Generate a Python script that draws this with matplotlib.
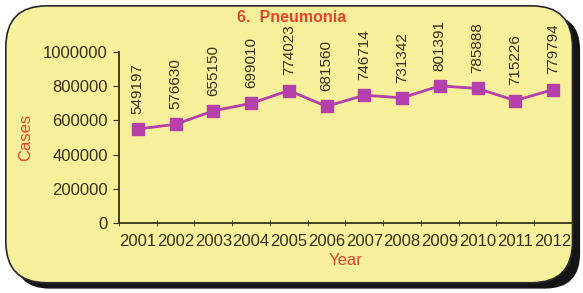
import matplotlib.pyplot as plt
from matplotlib.patches import FancyBboxPatch
from matplotlib.ticker import FuncFormatter

plt.rcParams['font.family'] = ['Liberation Sans', 'DejaVu Sans']

years = ['2001', '2002', '2003', '2004', '2005', '2006',
         '2007', '2008', '2009', '2010', '2011', '2012']
cases = [549197, 576630, 655150, 699010, 774023, 681560,
         746714, 731342, 801391, 785888, 715226, 779794]

panel = '#f9f09b'
ink = '#36321a'
red = '#e5452c'

fig = plt.figure(figsize=(5.83, 2.93), dpi=100)
fig.patch.set_facecolor('white')

# shadow + rounded panel, kept behind the axes
shadow = FancyBboxPatch((0.025, 0.015), 0.97, 0.935,
                        boxstyle='round,pad=0,rounding_size=0.06',
                        transform=fig.transFigure, facecolor='#151515',
                        edgecolor='none', mutation_aspect=2.0, zorder=-20)
box = FancyBboxPatch((0.01, 0.035), 0.972, 0.945,
                     boxstyle='round,pad=0,rounding_size=0.07',
                     transform=fig.transFigure, facecolor=panel,
                     edgecolor='#2a2a2a', linewidth=1.2, mutation_aspect=2.0,
                     zorder=-10)
fig.patches.extend([shadow, box])

ax = fig.add_axes([0.204, 0.239, 0.777, 0.584])
ax.set_facecolor('none')
x = range(len(years))
ax.plot(x, cases, color='#b540ab', linewidth=2, marker='s', markersize=9,
        markerfacecolor='#b540ab', markeredgecolor='#b540ab', clip_on=False)
for xi, v in zip(x, cases):
    ax.annotate(str(v), (xi, v), xytext=(0, 11), textcoords='offset points',
                rotation=90, ha='center', va='bottom', fontsize=11,
                color=ink)

ax.set_xlim(-0.5, len(years) - 0.5)
ax.set_ylim(0, 1000000)
ax.set_yticks(range(0, 1000001, 200000))
ax.yaxis.set_major_formatter(FuncFormatter(lambda v, p: '%d' % v))
ax.set_xticks(x)
ax.set_xticklabels(years)
ax.set_xticks([i - 0.5 for i in range(len(years) + 1)], minor=True)
ax.tick_params(axis='x', which='major', length=0, pad=8)
ax.tick_params(axis='x', which='minor', length=4, direction='inout', color=ink)
ax.tick_params(axis='y', length=4, color=ink, pad=4)
for lab in ax.get_xticklabels() + ax.get_yticklabels():
    lab.set_fontsize(12)
    lab.set_color(ink)

for s in ['top', 'right']:
    ax.spines[s].set_visible(False)
for s in ['left', 'bottom']:
    ax.spines[s].set_color(ink)
    ax.spines[s].set_linewidth(1.3)

ax.set_xlabel('Year', color=red, fontsize=12, labelpad=3)
ax.set_ylabel('Cases', color=red, fontsize=12, labelpad=7)
fig.text(0.5, 0.925, '6.  Pneumonia', color=red, fontsize=11.5,
         fontweight='bold', ha='center')

fig.savefig('out.png', dpi=100)
